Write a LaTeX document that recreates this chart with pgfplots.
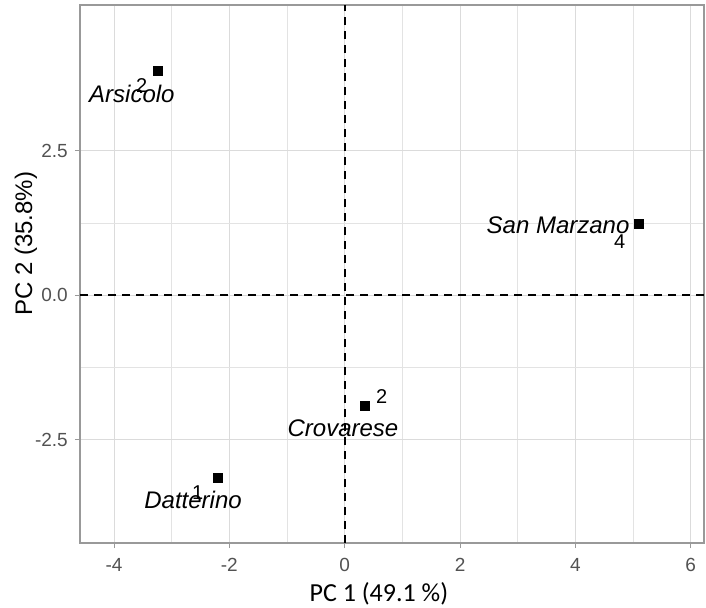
\documentclass[border=0pt]{standalone}
\usepackage{fontspec}
\setmainfont{Liberation Sans}
\newfontfamily\calfont{Carlito}
\usepackage{pgfplots}
\pgfplotsset{compat=1.18}
\begin{document}
\begin{tikzpicture}
\begin{axis}[
  scale only axis, width=624pt, height=538pt,
  xmin=-4.59, xmax=6.23, ymin=-4.29, ymax=5.02,
  xtick={-4,-2,0,2,4,6}, xticklabels={-4,-2,0,2,4,6},
  ytick={-2.5,0,2.5}, yticklabels={-2.5,0.0,2.5},
  minor x tick num=1, minor y tick num=1,
  grid=both,
  major grid style={draw=black!14, line width=0.9pt},
  minor grid style={draw=black!11, line width=0.6pt},
  tick pos=left, tick align=outside,
  major tick length=5pt, minor tick length=0pt,
  tick style={draw=black!40, line width=0.9pt},
  axis line style={draw=black!40, line width=1.1pt},
  ticklabel style={font=\fontsize{19}{19}\selectfont, text=black!68, inner sep=0pt},
  xticklabel style={anchor=north, yshift=-10pt},
  yticklabel style={anchor=east, xshift=-7pt},
  xlabel={PC 1 (49.1 \%)},
  xlabel style={font=\calfont\fontsize{26}{26}\selectfont, at={(axis description cs:0.479,-0.1078)}, anchor=base, inner sep=0pt},
  ylabel={PC 2 (35.8\%)},
  ylabel style={font=\fontsize{24}{24}\selectfont, at={(axis description cs:-0.0865,0.556)}, anchor=center, inner sep=0pt},
]
% reference lines
\addplot[black, dash pattern=on 8pt off 6pt, line width=1.8pt] coordinates {(0,-4.29) (0,5.02)};
\addplot[black, dash pattern=on 8pt off 6pt, line width=1.8pt] coordinates {(-4.59,0) (6.23,0)};
% scores
\addplot[only marks, mark=square*, mark size=4.5pt, black] table {
x y
-3.24 3.89
5.10 1.24
0.34 -1.92
-2.20 -3.16
};
% variety names
\addplot[draw=none, mark=none, nodes near coords, point meta=explicit symbolic,
  nodes near coords style={anchor=base, inner sep=0pt, font=\itshape\fontsize{24}{24}\selectfont, text=black}]
  table[col sep=comma, meta=label] {
x,y,label
-3.69,3.34,Arsicolo
3.70,1.07,San Marzano
-0.03,-2.44,Crovarese
-2.63,-3.69,Datterino
};
% sample numbers
\addplot[draw=none, mark=none, nodes near coords, point meta=explicit symbolic,
  nodes near coords style={anchor=base, inner sep=0pt, font=\fontsize{20}{20}\selectfont, text=black}]
  table[col sep=comma, meta=label] {
x,y,label
-3.52,3.51,2
4.77,0.80,4
0.64,-1.87,2
-2.55,-3.53,1
};
\coordinate (ll) at (rel axis cs:0,0);
\coordinate (ur) at (rel axis cs:1,1);
\end{axis}
\pgfresetboundingbox
\useasboundingbox ([xshift=-80pt,yshift=-64pt]ll) rectangle ([xshift=2pt,yshift=5pt]ur);
\end{tikzpicture}
\end{document}
